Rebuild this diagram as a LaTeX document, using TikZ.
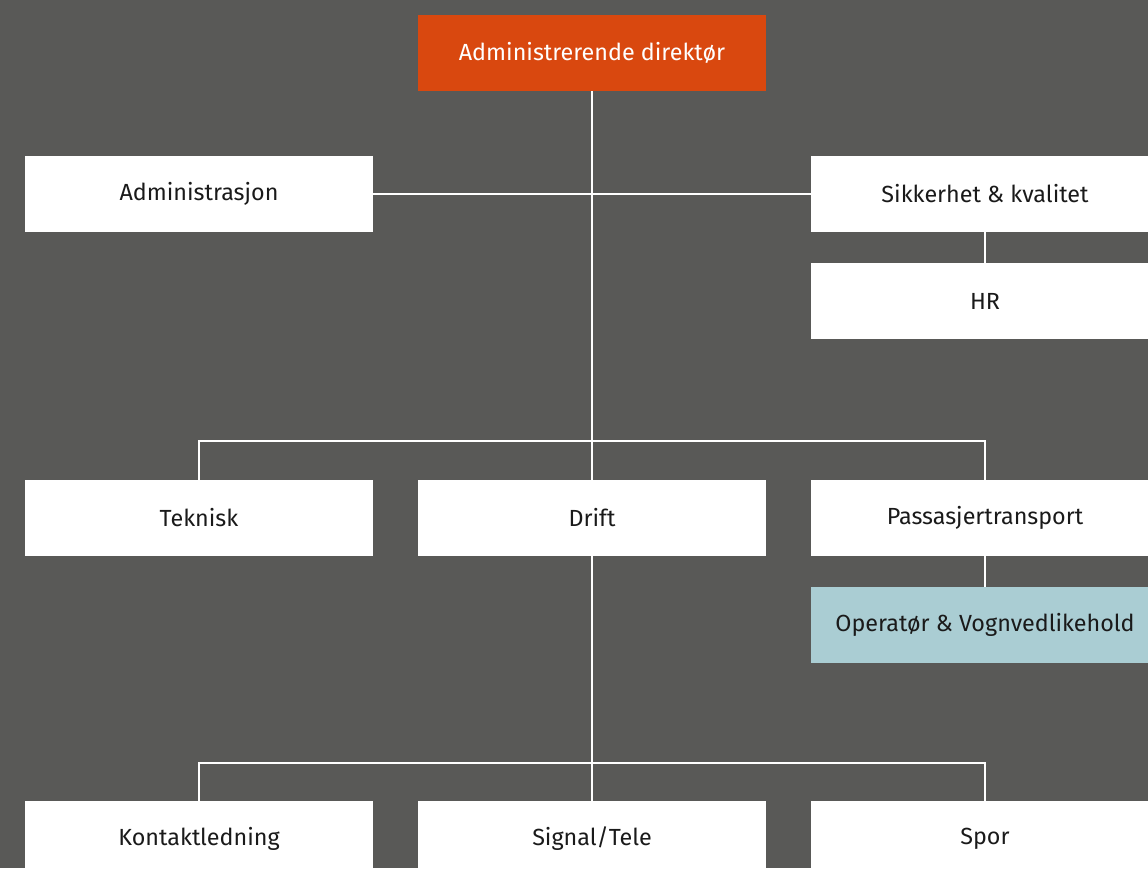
\documentclass[tikz,border=0pt]{standalone}
\usepackage{fontspec}
\setmainfont{Fira Sans}
\definecolor{bg}{HTML}{595957}
\definecolor{boss}{HTML}{D9480F}
\definecolor{pale}{HTML}{AACDD3}
\definecolor{ink}{HTML}{1A1A1A}
\begin{document}
\begin{tikzpicture}[x=0.75pt,y=-0.75pt,
  unit/.style={rectangle,fill=white,minimum width=261pt,minimum height=57pt,inner sep=0pt,
    text=ink,font=\fontsize{17.5pt}{20pt}\selectfont},
  top/.style={unit,fill=boss,text=white},
  ops/.style={unit,fill=pale},
  link/.style={draw=white,line width=1.6pt}]
\useasboundingbox (0,0) rectangle (1148,868);
\clip (0,0) rectangle (1148,868);
\fill[bg] (0,0) rectangle (1148,868);
\coordinate (j1) at (592,441);
\coordinate (j2) at (592,763);
\path (592,53) node[top] (dir) {Administrerende direktør}
      (199,194) node[unit] (adm) {Administrasjon}
      (985,194) node[unit] (sik) {Sikkerhet \& kvalitet}
      (985,301) node[unit] (hr) {HR}
      (199,518) node[unit] (tek) {Teknisk}
      (592,518) node[unit] (dri) {Drift}
      (985,518) node[unit] (pas) {Passasjertransport}
      (985,625) node[ops] (opv) {Operatør \& Vognvedlikehold}
      (199,839) node[unit] (kon) {Kontaktledning}
      (592,839) node[unit] (sig) {Signal/Tele}
      (985,839) node[unit] (spo) {Spor};
\draw[link] (dir.south) -- (dri.north);
\draw[link] (dri.south) -- (sig.north);
\draw[link] (adm.east) -- (sik.west);
\draw[link] (sik.south) -- (hr.north);
\draw[link] (pas.south) -- (opv.north);
\draw[link] (tek.north) |- (j1) -| (pas.north);
\draw[link] (kon.north) |- (j2) -| (spo.north);
\end{tikzpicture}
\end{document}
